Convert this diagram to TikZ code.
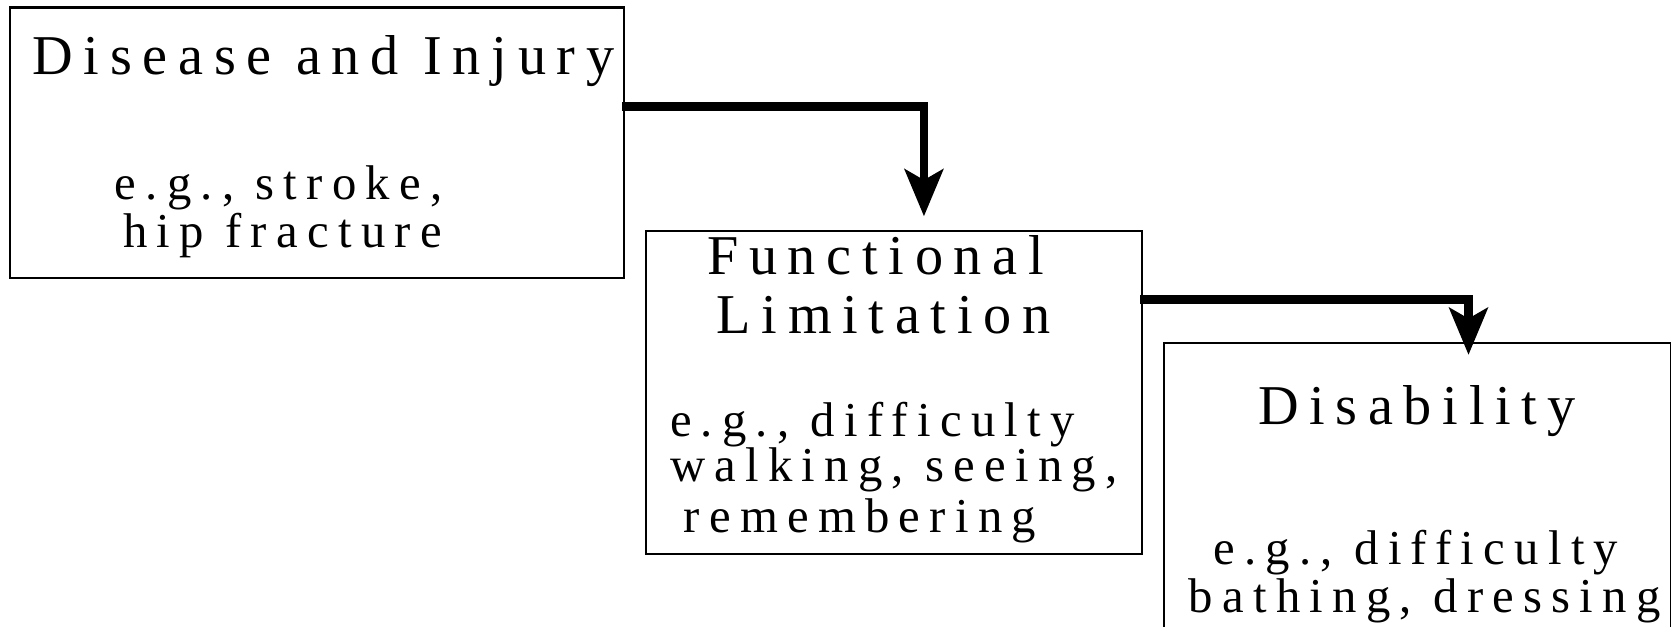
\documentclass[tikz,border=0pt]{standalone}
\usepackage{fontspec}
\setmainfont{Liberation Serif}[LetterSpace=19,Ligatures=NoCommon]
\usetikzlibrary{arrows.meta}
\begin{document}
\begin{tikzpicture}[x=0.01cm,y=-0.01cm,
  boxnode/.style={draw,line width=0.02cm,rectangle,inner sep=0pt,anchor=north west},
  titletext/.style={anchor=base west,inner sep=0pt,font=\fontsize{15pt}{18pt}\selectfont},
  bodytext/.style={anchor=base west,inner sep=0pt,font=\fontsize{13pt}{15pt}\selectfont},
  flowarrow/.style={line width=0.08cm,-{Stealth[length=0.44cm,width=0.36cm,inset=0.1cm]}}]
\useasboundingbox (0,0) rectangle (1568,588);
\clip (0,0) rectangle (1568,588);
% boxes
\node[boxnode,minimum width=5.76cm,minimum height=2.54cm] (b1) at (8,6) {};
\node[boxnode,minimum width=4.65cm,minimum height=3.03cm] (b2) at (605,216) {};
\node[boxnode,minimum width=4.76cm,minimum height=2.80cm] (b3) at (1091,321) {};
% texts
\node[titletext] (t1) at (30,70) {Disease and Injury};
\node[bodytext] (t1a) at (107,187) {e.g., stroke,};
\node[bodytext] (t1b) at (115,232) {hip fracture};
\node[titletext] (t2) at (663,258) {Functional};
\node[titletext] (t2b) at (672,313) {Limitation};
\node[bodytext] (t2c) at (628,410) {e.g., difficulty};
\node[bodytext] (t2d) at (628,452) {walking, seeing,};
\node[bodytext] (t2e) at (641,500) {remembering};
\node[titletext] (t3) at (1180,398) {Disability};
\node[bodytext] (t3a) at (1138,530) {e.g., difficulty};
\node[bodytext] (t3b) at (1115,575) {bathing, dressing};
% connectors
\coordinate (s1) at (584,100);
\coordinate (e1) at (867,203);
\coordinate (s2) at (1070,281);
\coordinate (e2) at (1378,333);
\draw[flowarrow] (s1) -| (e1);
\draw[flowarrow] (s2) -| (e2);
\end{tikzpicture}
\end{document}
